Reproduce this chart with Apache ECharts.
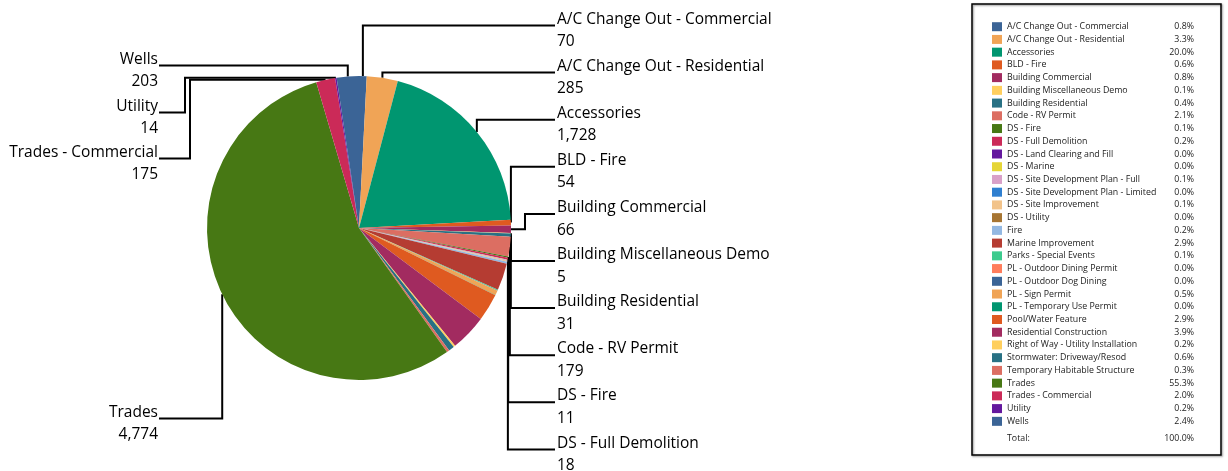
<!DOCTYPE html>
<html>
<head>
<meta charset="utf-8">
<title>Permits by Type</title>
<script src="https://cdn.jsdelivr.net/npm/echarts@6/dist/echarts.min.js"></script>
<style>
  html, body { margin: 0; padding: 0; background: #fff; }
  #chart { width: 1228px; height: 471px; }
</style>
</head>
<body>
<div id="chart"></div>
<script>
// permit types, in slice order (clockwise from 12 o'clock)
const categories = [
  'A/C Change Out - Commercial', 'A/C Change Out - Residential', 'Accessories', 'BLD - Fire',
  'Building Commercial', 'Building Miscellaneous Demo', 'Building Residential', 'Code - RV Permit',
  'DS - Fire', 'DS - Full Demolition', 'DS - Land Clearing and Fill', 'DS - Marine',
  'DS - Site Development Plan - Full', 'DS - Site Development Plan - Limited', 'DS - Site Improvement',
  'DS - Utility', 'Fire', 'Marine Improvement', 'Parks - Special Events', 'PL - Outdoor Dining Permit',
  'PL - Outdoor Dog Dining', 'PL - Sign Permit', 'PL - Temporary Use Permit', 'Pool/Water Feature',
  'Residential Construction', 'Right of Way - Utility Installation', 'Stormwater: Driveway/Resod',
  'Temporary Habitable Structure', 'Trades', 'Trades - Commercial', 'Utility', 'Wells'
]
// permit counts (labelled ones read directly, the rest estimated from the legend %)
const counts = [
  70, 285, 1728, 54,
  66, 5, 31, 179,
  11, 18, 2, 1,
  6, 2, 8,
  1, 17, 250, 7, 1,
  1, 43, 2, 252,
  337, 16, 52,
  24, 4774, 175, 14, 203
]
// slices that get a callout label
const labelledIdx = [0, 1, 2, 3, 4, 5, 6, 7, 8, 9, 28, 29, 30, 31]

const sliceColors = [
  '#3b6496', '#f0a456', '#009670', '#df5a20', '#a22b60', '#ffcf5e', '#287184', '#dc6e62',
  '#477814', '#cb2a58', '#64189e', '#e5d536', '#d9a0c8', '#2f7fd0', '#f2c38a', '#a77532',
  '#93b8e2', '#b53c32', '#3dcb8e', '#ff7d5c', '#3b6496', '#f0a456', '#009670', '#df5a20',
  '#a22b60', '#ffcf5e', '#287184', '#dc6e62', '#477814', '#cb2a58', '#64189e', '#3b6496'
]

const FONT = 'Open Sans'
const total = counts.reduce((a, b) => a + b, 0)
const pct = (v) => (v / total * 100).toFixed(1) + '%'

// callout layout: right column stacked from the top, left column fixed slots
const RIGHT_X = 557
const LEFT_X = 158
const leftTops = { 31: 48, 30: 95, 29: 141, 28: 401 }
const leftElbowX = { 30: 185, 29: 190 }
const CY = 228

const chart = echarts.init(document.getElementById('chart'))

const labelLayout = (params) => {
  const i = params.dataIndex
  if (!labelledIdx.includes(i) || !params.labelLinePoints) return {}
  const isLeft = leftTops[i] !== undefined
  const top = isLeft ? leftTops[i] : 8 + 47.1 * i
  const lineY = top + 17.5
  const p0 = params.labelLinePoints[0]
  const edgeX = isLeft ? LEFT_X + 1 : RIGHT_X - 2
  let points
  // go straight up/down first when that moves away from the pie, else step sideways first
  const away = (lineY - p0[1]) * (p0[1] - CY) >= 0
  if (away) {
    points = [p0, [p0[0], lineY], [edgeX, lineY]]
  } else {
    const xv = isLeft ? leftElbowX[i] : p0[0] + 14
    points = [p0, [xv, p0[1]], [xv, lineY], [edgeX, lineY]]
  }
  return {
    x: isLeft ? LEFT_X : RIGHT_X,
    y: top,
    align: isLeft ? 'right' : 'left',
    verticalAlign: 'top',
    labelLinePoints: points
  }
}

chart.setOption({
  animation: false,
  legend: {
    data: categories,
    orient: 'vertical',
    left: 992,
    top: 21.7,
    padding: 0,
    icon: 'rect',
    itemWidth: 10,
    itemHeight: 9,
    itemGap: 2.73,
    selectedMode: false,
    formatter: (name) => {
      const i = categories.indexOf(name)
      return '{n|' + name + '}{p|' + pct(counts[i]) + '}'
    },
    textStyle: {
      fontFamily: FONT,
      fontSize: 8.8,
      color: '#222',
      lineHeight: 10,
      rich: {
        n: { width: 157, fontFamily: FONT, fontSize: 8.8, lineHeight: 10, color: '#222' },
        p: { width: 30, align: 'right', fontFamily: FONT, fontSize: 8.8, lineHeight: 10, color: '#222' }
      }
    }
  },
  graphic: [
    {
      type: 'rect',
      shape: { x: 972, y: 4, width: 249, height: 451 },
      style: {
        fill: 'none', stroke: '#000', lineWidth: 1.5,
        shadowBlur: 2, shadowOffsetX: 1, shadowOffsetY: 1, shadowColor: 'rgba(0,0,0,0.45)'
      },
      silent: true
    },
    {
      type: 'text',
      style: { text: 'Total:', x: 1007, y: 438, verticalAlign: 'middle', fontFamily: FONT, fontSize: 8.8, fill: '#222' }
    },
    {
      type: 'text',
      style: { text: pct(total), x: 1194, y: 438, align: 'right', verticalAlign: 'middle', fontFamily: FONT, fontSize: 8.8, fill: '#222' }
    }
  ],
  series: [
    {
      type: 'pie',
      center: [359, CY],
      radius: 152,
      startAngle: 90,
      clockwise: true,
      avoidLabelOverlap: false,
      emphasis: { disabled: true },
      data: categories.map((name, i) => {
        const show = labelledIdx.includes(i)
        return {
          name,
          value: counts[i],
          itemStyle: { color: sliceColors[i] },
          label: { show },
          labelLine: { show }
        }
      }),
      itemStyle: { borderWidth: 0 },
      label: {
        position: 'outer',
        alignTo: 'none',
        fontFamily: FONT,
        fontSize: 15.5,
        lineHeight: 22.5,
        color: '#000',
        formatter: (p) => p.name + '\n' + p.value.toLocaleString('en-US')
      },
      labelLine: {
        show: true,
        length: 10,
        length2: 10,
        lineStyle: { color: '#000', width: 2 }
      },
      labelLayout
    }
  ]
})
</script>
</body>
</html>
